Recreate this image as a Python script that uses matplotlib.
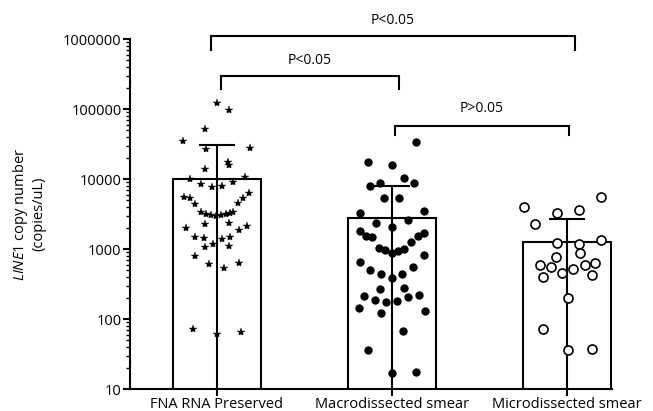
import matplotlib
matplotlib.use("Agg")
import matplotlib.pyplot as plt
import numpy as np

plt.rcParams.update(
    {
        "font.family": ["Open Sans", "DejaVu Sans"],
        "font.size": 10,
        "mathtext.fontset": "custom",
        "mathtext.it": "Open Sans:italic",
        "mathtext.rm": "Open Sans",
    }
)

# --- Data ---
groups = ["FNA RNA Preserved", "Macrodissected smear", "Microdissected smear"]
bar_means = [10000, 2800, 1250]
bar_upper = [30300, 8000, 2700]  # mean + SD

# FNA RNA preserved (stars): horizontal jitter, copies/uL
fna_dx = [0.00, 0.067, -0.070, -0.193, 0.189, -0.065, 0.061, 0.067, -0.070, -0.154,
          -0.093, -0.030, 0.030, 0.093, 0.158, -0.189, -0.154, -0.124, 0.120, 0.150,
          0.181, -0.093, -0.063, -0.036, -0.006, 0.021, 0.051, 0.074, 0.093, -0.177,
          -0.070, 0.070, 0.124, 0.173, -0.124, -0.074, 0.074, 0.027, -0.025, -0.070,
          0.067, -0.127, -0.044, 0.127, 0.040, -0.139, 0.002, 0.135]
fna_vals = [123000, 96800, 51300, 34600, 28000, 27100, 17700, 15800, 13900, 9900,
            8400, 7600, 8000, 9100, 10600, 5480, 5300, 4350, 4500, 5300,
            6250, 3340, 3130, 3060, 2990, 3060, 3190, 3270, 3410, 2010,
            2250, 2380, 1890, 2150, 1500, 1420, 1470, 1380, 1190, 1080,
            1090, 802, 617, 631, 530, 72, 61, 65]

# Macrodissected smear (filled circles)
macro_dx = [0.135, -0.139, 0.0, 0.067, -0.127, -0.070, 0.127, -0.044, 0.040, -0.185,
            0.181, -0.093, 0.090, 0.0, -0.185, -0.147, -0.113, 0.147, 0.181, -0.074,
            -0.040, 0.0, 0.036, 0.070, 0.109, -0.185, 0.185, -0.124, -0.063, 0.0,
            0.059, 0.120, -0.158, -0.097, -0.070, -0.033, 0.030, 0.069, 0.093, 0.154,
            -0.189, -0.065, 0.189, 0.063, -0.139, 0.0, 0.135]
macro_vals = [34100, 17300, 15800, 10400, 7940, 8680, 8680, 5300, 5410, 3240,
              3520, 2330, 2600, 2060, 1830, 1530, 1500, 1530, 1710, 1040,
              968, 885, 946, 1000, 1250, 646, 820, 501, 435, 389,
              444, 548, 213, 187, 268, 173, 182, 275, 206, 218,
              142, 122, 130, 67, 36, 16.8, 17.7]

# Microdissected smear (open circles)
micro_dx = [0.193, -0.246, -0.055, 0.067, -0.185, -0.055, 0.067, 0.193, -0.063, 0.074,
            -0.154, -0.093, -0.029, 0.036, 0.101, 0.162, -0.135, 0.143, 0.006, -0.135,
            0.006, 0.143]
micro_vals = [5590, 3940, 3300, 3610, 2280, 1210, 1170, 1350, 776, 868,
              591, 548, 458, 513, 585, 625, 394, 421, 198, 71,
              36, 37]

# significance brackets: (x_left, x_right, y_bar, y_leg, label, y_text)
brackets = [
    (-0.034, 2.046, 1.11e6, 6.97e5, "P<0.05", 1.87e6),
    (0.023, 1.040, 2.95e5, 1.93e5, "P<0.05", 5.0e5),
    (1.017, 2.010, 5.75e4, 4.27e4, "P>0.05", 1.03e5),
]

# --- Figure ---
fig = plt.figure(figsize=(6.53, 4.11), dpi=100)
ax = fig.add_axes([0.199, 0.0535, 0.738, 0.8515])

x = np.arange(len(groups))
ax.bar(x, bar_means, width=0.5, color="white", edgecolor="black", linewidth=1.5, zorder=1)

means = np.array(bar_means, dtype=float)
sd = np.array(bar_upper, dtype=float) - means
lower = means - np.maximum(means - sd, 1.0)
ax.errorbar(x, means, yerr=[lower, sd], fmt="none", ecolor="black",
            elinewidth=1.5, capsize=13, capthick=1.5, zorder=3)

ax.plot(x[0] + np.array(fna_dx), fna_vals, ls="none", marker="*", ms=6,
        color="black", mew=0.3, zorder=4)
ax.plot(x[1] + np.array(macro_dx), macro_vals, ls="none", marker="o", ms=5,
        color="black", zorder=4)
ax.plot(x[2] + np.array(micro_dx), micro_vals, ls="none", marker="o", ms=6.5,
        mfc="white", mec="black", mew=1.2, zorder=4)

for x0, x1, yb, yl, label, yt in brackets:
    ax.plot([x0, x0, x1, x1], [yl, yb, yb, yl], color="black", lw=1.5,
            clip_on=False, solid_joinstyle="miter")
    ax.text((x0 + x1) / 2, yt, label, ha="center", va="center", fontsize=10,
            clip_on=False)

ax.set_yscale("log")
ax.set_ylim(10, 1e6)
ax.set_xlim(-0.497, 2.257)
ax.set_yticks([10, 100, 1000, 10000, 100000, 1000000])
ax.set_yticklabels(["10", "100", "1000", "10000", "100000", "1000000"], fontsize=10.5)
ax.set_xticks(x)
ax.set_xticklabels(groups, fontsize=10.5)

for side in ("top", "right"):
    ax.spines[side].set_visible(False)
for side in ("left", "bottom"):
    ax.spines[side].set_linewidth(1.5)
ax.tick_params(axis="both", which="major", direction="out", length=5, width=1.5, pad=1)
ax.tick_params(axis="y", which="minor", direction="out", length=3, width=1)
ax.tick_params(axis="x", pad=0.5)

ax.set_ylabel(r"$\it{LINE1}$ copy number" + "\n(copies/uL)", fontsize=10.5,
              linespacing=1.1, labelpad=12)

fig.savefig("out.png", dpi=100)
